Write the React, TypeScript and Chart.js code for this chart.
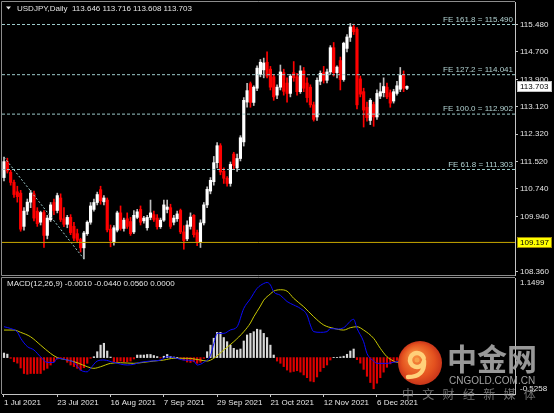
import React, { useEffect, useRef } from 'react';
import { Chart, registerables } from 'chart.js';

Chart.register(...registerables);

// ---------- Price data (daily USDJPY, 1 Jul 2021 - 17 Dec 2021) ----------
const opens = [
  111.07, 111.53, 111.22, 110.93, 110.66, 110.62, 109.66, 110.10, 110.36, 110.60,
  110.10, 109.78, 110.06, 109.40, 109.85, 110.35, 110.12, 110.48, 109.88, 109.72,
  109.92, 109.66, 109.45, 109.28, 109.04, 109.45, 109.78, 110.15, 110.35, 110.72,
  110.37, 110.42, 109.58, 109.20, 109.55, 110.05, 109.60, 109.88, 109.80, 109.50,
  109.92, 110.15, 109.82, 109.62, 109.92, 110.00, 109.90, 109.65, 109.84, 110.15,
  110.20, 109.78, 109.88, 110.12, 109.50, 109.30, 109.66, 109.98, 109.48, 109.20,
  109.76, 110.28, 110.68, 110.95, 111.50, 111.99, 111.25, 111.05, 110.90, 111.75,
  111.35, 111.62, 112.10, 113.25, 113.78, 113.24, 113.65, 114.05, 114.18, 114.40,
  114.20, 113.98, 113.45, 113.68, 114.10, 113.80, 113.50, 114.10, 113.98, 113.55,
  114.15, 113.80, 113.68, 113.17, 112.82, 113.85, 114.10, 113.88, 114.12, 114.82,
  114.10, 114.45, 113.90, 114.80, 115.12, 115.42, 115.35, 113.92, 113.55, 113.10,
  112.72, 113.18, 112.82, 113.42, 113.52, 113.68, 113.52, 113.28, 113.50, 113.62,
  114.05, 113.646,
];
const highs = [
  111.66, 111.63, 111.28, 111.00, 110.82, 110.70, 110.20, 110.45, 110.70, 110.68,
  110.20, 110.10, 110.12, 109.98, 110.35, 110.45, 110.62, 110.60, 110.20, 109.98,
  110.00, 109.78, 109.58, 109.32, 109.52, 109.82, 110.35, 110.45, 110.65, 110.82,
  110.55, 110.48, 109.70, 109.68, 110.10, 110.25, 109.90, 110.05, 109.92, 110.12,
  110.15, 110.25, 109.95, 109.98, 110.42, 110.10, 110.00, 109.90, 110.42, 110.42,
  110.30, 109.98, 110.10, 110.16, 109.68, 109.82, 110.05, 110.00, 109.55, 109.85,
  110.35, 110.80, 111.07, 111.68, 112.08, 112.05, 111.35, 111.10, 111.52, 111.80,
  111.75, 112.28, 113.38, 113.79, 113.83, 113.72, 114.30, 114.48, 114.52, 114.70,
  114.28, 114.05, 113.75, 114.32, 114.20, 113.95, 114.05, 114.42, 114.08, 114.30,
  114.25, 113.95, 113.75, 113.25, 113.95, 114.15, 114.28, 114.20, 114.88, 114.97,
  114.30, 114.55, 114.98, 115.20, 115.52, 115.50, 115.40, 114.00, 113.65, 113.25,
  113.35, 113.25, 113.60, 113.80, 113.95, 113.80, 113.60, 113.62, 113.85, 114.25,
  114.15, 113.716,
];
const lows = [
  110.97, 111.20, 110.85, 110.50, 110.36, 109.52, 109.55, 110.00, 110.20, 109.82,
  109.66, 109.70, 109.05, 109.30, 109.80, 110.00, 110.05, 109.80, 109.65, 109.62,
  109.42, 109.25, 109.20, 108.92, 108.72, 109.40, 109.72, 110.10, 110.28, 110.30,
  110.28, 109.50, 109.07, 109.12, 109.50, 109.55, 109.52, 109.60, 109.40, 109.45,
  109.88, 109.70, 109.75, 109.55, 109.85, 109.80, 109.58, 109.60, 109.80, 110.05,
  109.60, 109.70, 109.80, 109.45, 109.00, 109.25, 109.58, 109.35, 109.10, 109.05,
  109.70, 110.20, 110.60, 110.85, 111.35, 111.15, 110.90, 110.82, 110.82, 111.30,
  111.25, 111.55, 111.98, 113.10, 113.10, 113.15, 113.58, 113.98, 113.95, 113.95,
  113.60, 113.30, 113.35, 113.60, 113.45, 113.25, 113.40, 113.85, 113.45, 113.50,
  113.55, 113.25, 113.10, 112.70, 112.72, 113.75, 113.80, 113.80, 114.05, 114.00,
  113.95, 113.60, 113.85, 114.70, 115.00, 115.20, 113.05, 113.40, 112.53, 112.70,
  112.60, 112.55, 112.75, 113.35, 113.40, 113.35, 113.10, 113.22, 113.45, 113.55,
  113.55, 113.608,
];
const closes = [
  111.53, 111.26, 110.93, 110.58, 110.52, 109.58, 110.10, 110.36, 110.62, 109.90,
  109.74, 110.06, 109.40, 109.90, 110.28, 110.12, 110.55, 109.86, 109.72, 109.92,
  109.48, 109.32, 109.26, 109.04, 109.47, 109.78, 110.25, 110.35, 110.58, 110.40,
  110.48, 109.56, 109.25, 109.62, 110.05, 109.60, 109.84, 109.66, 109.45, 109.98,
  110.08, 109.78, 109.90, 109.92, 110.05, 109.86, 109.65, 109.84, 110.28, 110.22,
  109.66, 109.90, 110.02, 109.50, 109.25, 109.70, 109.93, 109.42, 109.22, 109.76,
  110.28, 110.73, 110.99, 111.50, 111.99, 111.23, 111.05, 110.90, 111.45, 111.42,
  111.62, 112.22, 113.30, 113.58, 113.24, 113.68, 114.23, 114.40, 114.38, 114.00,
  113.68, 113.40, 113.68, 114.12, 113.56, 113.50, 114.00, 113.95, 113.55, 114.15,
  113.65, 113.38, 113.17, 112.75, 113.88, 114.08, 113.88, 114.12, 114.82, 114.10,
  114.26, 113.90, 114.95, 115.13, 115.42, 115.28, 113.17, 113.48, 113.02, 112.80,
  113.30, 112.82, 113.50, 113.55, 113.70, 113.40, 113.22, 113.55, 113.72, 114.02,
  113.65, 113.703,
];

// ---------- Axis labels / levels ----------
const xTickIndex = [0, 16, 32, 48, 64, 80, 96, 112];
const xTickLabels = ['1 Jul 2021', '23 Jul 2021', '16 Aug 2021', '7 Sep 2021', '29 Sep 2021', '21 Oct 2021', '12 Nov 2021', '6 Dec 2021'];
const priceTicks = [115.48, 114.7, 113.9, 113.12, 112.32, 111.52, 110.74, 109.94, 108.36];
const feLevels = [115.49, 114.041, 112.902, 111.303];
const feLabels = ['FE 161.8 = 115.490', 'FE 127.2 = 114.041', 'FE 100.0 = 112.902', 'FE 61.8 = 111.303'];
const supportLevel = 109.197;
const supportLabel = '109.197';
const lastPrice = 113.703;
const lastPriceLabel = '113.703';
const trendStartBar = 0;
const trendEndBar = 24;
const headerText = 'USDJPY,Daily  113.646 113.716 113.608 113.703';

// ---------- MACD(12,26,9) ----------
const macdTitle = 'MACD(12,26,9) -0.0010 -0.0440 0.0560 0.0000';
const macdAxisLabels = ['1.1499', '-0.5258'];
const macdHist = [
  0.066, 0.05, -0.01, -0.06, -0.08, -0.15, -0.23, -0.24, -0.23, -0.23,
  -0.23, -0.23, -0.18, -0.155, -0.107, -0.06, -0.02, -0.005, -0.012, -0.068,
  -0.107, -0.13, -0.155, -0.18, -0.146, -0.082, -0.01, 0.013, 0.085, 0.18,
  0.207, 0.095, 0.008, -0.06, -0.06, -0.05, -0.06, -0.06, -0.05, -0.02,
  0.037, 0.037, 0.037, 0.045, 0.045, 0.03, 0.015, -0.005, 0.02, 0.045,
  0.015, 0.008, 0.004, -0.006, -0.035, -0.064, -0.07, -0.06, -0.082, -0.068,
  -0.012, 0.085, 0.18, 0.28, 0.365, 0.365, 0.29, 0.23, 0.18, 0.134,
  0.11, 0.124, 0.24, 0.327, 0.35, 0.374, 0.41, 0.40, 0.35, 0.29,
  0.18, 0.037, -0.05, -0.082, -0.13, -0.18, -0.21, -0.20, -0.19, -0.21,
  -0.25, -0.29, -0.34, -0.35, -0.28, -0.20, -0.146, -0.107, -0.035, 0.003,
  0.003, 0.01, 0.02, 0.048, 0.095, 0.124, -0.03, -0.08, -0.17, -0.27,
  -0.36, -0.45, -0.37, -0.29, -0.21, -0.14, -0.09, -0.06, -0.04, -0.02,
  -0.015, -0.001,
];
const macdMainBars = [0, 2, 4, 5, 7, 9, 11, 13, 15, 16, 19, 21, 23, 25, 26, 28, 30, 33, 37, 39, 41, 44, 47, 49, 51, 54, 57, 58, 60, 62, 63, 64, 66, 68, 70, 72, 74, 76, 78, 79, 80, 81, 83, 85, 87, 89, 91, 92, 93, 95, 97, 98, 100, 102, 105, 106, 108, 109, 111, 112, 115, 117, 118, 119, 121];
const macdMainValues = [0.446, 0.42, 0.37, 0.28, 0.16, 0.11, 0.01, -0.07, -0.07, -0.01, -0.035, -0.07, -0.18, -0.205, -0.155, -0.05, -0.035, -0.07, -0.107, -0.097, -0.068, -0.05, -0.035, 0.013, 0.0, -0.035, -0.05, -0.107, -0.068, 0.03, 0.2, 0.35, 0.35, 0.4, 0.446, 0.71, 0.85, 1.0, 1.07, 1.085, 1.05, 0.95, 0.9, 0.81, 0.76, 0.71, 0.615, 0.47, 0.375, 0.365, 0.375, 0.42, 0.413, 0.432, 0.553, 0.423, 0.229, 0.061, -0.05, -0.083, -0.083, -0.068, -0.06, -0.055, -0.044];
const macdSignalBars = [0, 3, 5, 8, 11, 14, 16, 19, 22, 25, 27, 29, 32, 35, 39, 42, 45, 48, 51, 55, 59, 61, 63, 66, 69, 72, 74, 75, 77, 78, 80, 81, 83, 85, 87, 90, 93, 96, 99, 102, 104, 106, 108, 111, 113, 115, 117, 118, 121];
const macdSignalValues = [0.398, 0.398, 0.365, 0.30, 0.18, 0.06, 0.0, -0.035, -0.074, -0.132, -0.155, -0.132, -0.083, -0.074, -0.083, -0.068, -0.05, -0.035, -0.01, -0.01, -0.035, -0.05, -0.01, 0.11, 0.23, 0.374, 0.5, 0.59, 0.745, 0.83, 0.92, 0.96, 0.98, 0.96, 0.856, 0.735, 0.591, 0.471, 0.423, 0.398, 0.432, 0.446, 0.398, 0.278, 0.134, 0.013, -0.05, -0.068, -0.07];

// ---------- Watermark text ----------
const wmTitle = '中金网';
const wmDomain = 'CNGOLD.COM.CN';
const wmSlogan = '中文财经新媒体';

// ---------- Scale ranges ----------
const X_MIN = -0.6;
const X_MAX = 153.45;
const Y_MIN = 108.256;
const Y_MAX = 116.14;
const MACD_MAX = 1.1499;
const MACD_MIN = -0.5258;

const FONT = "'Liberation Sans', Arial, sans-serif";
const TXT = '#e4e4e4';
const AXIS = '#c4c4c4';
const FRAME = '#8c8c8c';
const DASH = '#9ccaca';
const FE_TXT = '#b2d2d2';

export default function App() {
  const mainRef = useRef<HTMLCanvasElement>(null);
  const macdRef = useRef<HTMLCanvasElement>(null);

  useEffect(() => {
    document.body.style.margin = '0';
    document.body.style.background = '#000';

    const bull = closes.map((c, i) => c >= opens[i]);
    const wicks = highs.map((h, i) => ({ x: i, y: [lows[i], h] }));
    const bodies = opens.map((o, i) => ({ x: i, y: [o, closes[i]] }));

    const feDatasets = feLevels.map((lv) => ({
      type: 'line',
      data: [{ x: X_MIN, y: lv }, { x: X_MAX, y: lv }],
      borderColor: DASH,
      borderWidth: 1,
      borderDash: [3, 2],
      pointRadius: 0,
      order: 0,
    }));

    const mainOverlay = {
      id: 'mainOverlay',
      afterDraw(chart: any) {
        const { ctx, chartArea: a } = chart;
        const y = chart.scales.y;
        ctx.save();
        ctx.strokeStyle = FRAME;
        ctx.lineWidth = 1;
        ctx.beginPath();
        ctx.moveTo(a.left - 0.5, a.bottom + 0.5);
        ctx.lineTo(a.left - 0.5, a.top - 0.5);
        ctx.lineTo(a.right, a.top - 0.5);
        ctx.moveTo(a.left - 0.5, a.bottom + 0.5);
        ctx.lineTo(a.right, a.bottom + 0.5);
        ctx.stroke();
        ctx.fillStyle = TXT;
        ctx.beginPath();
        ctx.moveTo(6, 6.5);
        ctx.lineTo(11, 6.5);
        ctx.lineTo(8.5, 9.5);
        ctx.closePath();
        ctx.fill();
        ctx.font = `8px ${FONT}`;
        ctx.textBaseline = 'middle';
        ctx.textAlign = 'left';
        ctx.fillText(headerText, 17, 8.5);
        ctx.fillStyle = FE_TXT;
        ctx.textAlign = 'right';
        ctx.textBaseline = 'bottom';
        feLevels.forEach((lv, k) => {
          ctx.fillText(feLabels[k], a.right - 2, y.getPixelForValue(lv) - 1);
        });
        const box = (val: number, label: string, bg: string, border: string) => {
          const py = Math.round(y.getPixelForValue(val));
          ctx.fillStyle = bg;
          ctx.fillRect(a.right + 2, py - 5, 35, 11);
          ctx.strokeStyle = border;
          ctx.strokeRect(a.right + 2.5, py - 4.5, 34, 10);
          ctx.fillStyle = '#000';
          ctx.textAlign = 'left';
          ctx.textBaseline = 'middle';
          ctx.fillText(label, a.right + 5, py + 0.5);
        };
        box(lastPrice, lastPriceLabel, '#ffffff', '#c0c0c0');
        box(supportLevel, supportLabel, '#ffff00', '#a08800');
        ctx.restore();
      },
    };

    const main = new Chart(mainRef.current as HTMLCanvasElement, {
      type: 'bar',
      data: {
        datasets: [
          {
            type: 'bar',
            data: wicks,
            backgroundColor: bull.map((b) => (b ? '#bdbdbd' : '#ff0000')),
            barThickness: 1,
            grouped: false,
            order: 2,
          },
          {
            type: 'bar',
            data: bodies,
            backgroundColor: bull.map((b) => (b ? '#ffffff' : '#ff0000')),
            barThickness: 2.5,
            grouped: false,
            minBarLength: 1,
            order: 1,
          },
          ...feDatasets,
          {
            type: 'line',
            data: [{ x: X_MIN, y: supportLevel }, { x: X_MAX, y: supportLevel }],
            borderColor: '#c8a800',
            borderWidth: 1,
            pointRadius: 0,
            order: 0,
          },
          {
            type: 'line',
            data: [
              { x: trendStartBar, y: highs[trendStartBar] },
              { x: trendEndBar, y: lows[trendEndBar] },
            ],
            borderColor: DASH,
            borderWidth: 1,
            borderDash: [2, 2],
            pointRadius: 0,
            order: 0,
          },
        ] as any,
      },
      options: {
        responsive: false,
        animation: false,
        events: [],
        layout: { padding: { left: 2, top: 2, right: 0, bottom: 1 } },
        plugins: { legend: { display: false }, tooltip: { enabled: false } },
        scales: {
          x: { type: 'linear', min: X_MIN, max: X_MAX, offset: false, display: false },
          y: {
            type: 'linear',
            position: 'right',
            min: Y_MIN,
            max: Y_MAX,
            afterBuildTicks: (s: any) => {
              s.ticks = priceTicks.map((v) => ({ value: v }));
            },
            afterFit: (s: any) => {
              s.width = 39;
              s.paddingTop = 0;
              s.paddingBottom = 0;
            },
            ticks: {
              color: TXT,
              font: { family: FONT, size: 8 },
              padding: 2,
              autoSkip: false,
              callback: (v: any) => Number(v).toFixed(3),
            },
            grid: { drawOnChartArea: false, tickLength: 3, color: AXIS },
            border: { display: true, color: AXIS },
          },
        },
      } as any,
      plugins: [mainOverlay],
    });

    const macdOverlay = {
      id: 'macdOverlay',
      afterDraw(chart: any) {
        const { ctx, chartArea: a } = chart;
        ctx.save();
        ctx.strokeStyle = FRAME;
        ctx.lineWidth = 1;
        ctx.beginPath();
        ctx.moveTo(a.left - 0.5, a.bottom);
        ctx.lineTo(a.left - 0.5, a.top - 0.5);
        ctx.lineTo(a.right, a.top - 0.5);
        ctx.stroke();
        ctx.fillStyle = TXT;
        ctx.font = `8px ${FONT}`;
        ctx.textBaseline = 'middle';
        ctx.textAlign = 'left';
        ctx.fillText(macdTitle, 7, 8);

        const cx = 420;
        const cy = 87;
        const r = 22;
        const g = ctx.createRadialGradient(cx - 6, cy - 8, 3, cx, cy, r);
        g.addColorStop(0, '#f68a3c');
        g.addColorStop(0.7, '#e4521f');
        g.addColorStop(1, '#c9351a');
        ctx.fillStyle = g;
        ctx.beginPath();
        ctx.arc(cx, cy, r, 0, Math.PI * 2);
        ctx.fill();
        ctx.strokeStyle = '#ffd07a';
        ctx.lineCap = 'round';
        ctx.lineWidth = 4.5;
        ctx.beginPath();
        ctx.arc(cx - 3, cy - 3, 7, Math.PI * 0.1, Math.PI * 1.9);
        ctx.stroke();
        ctx.beginPath();
        ctx.moveTo(cx + 4, cy - 2);
        ctx.quadraticCurveTo(cx + 5, cy + 14, cx - 12, cy + 14);
        ctx.stroke();
        ctx.fillStyle = '#f7a24a';
        ctx.beginPath();
        ctx.arc(cx - 3, cy - 3, 2.5, 0, Math.PI * 2);
        ctx.fill();

        ctx.fillStyle = 'rgba(165,165,165,0.92)';
        ctx.font = "bold 30px 'Noto Sans CJK SC', sans-serif";
        ctx.textAlign = 'left';
        ctx.textBaseline = 'middle';
        ctx.fillText(wmTitle, 447, 83);
        ctx.fillStyle = 'rgba(170,170,170,0.95)';
        ctx.font = `10px ${FONT}`;
        ctx.fillText(wmDomain, 449, 105.5);
        ctx.fillStyle = 'rgba(150,150,150,0.75)';
        ctx.font = "12px 'Noto Sans CJK SC', sans-serif";
        Array.from(wmSlogan).forEach((ch, k) => {
          ctx.fillText(ch, 402 + k * 20.3, 118);
        });
        ctx.restore();
      },
    };

    const macd = new Chart(macdRef.current as HTMLCanvasElement, {
      type: 'bar',
      data: {
        datasets: [
          {
            type: 'line',
            data: macdMainBars.map((x, k) => ({ x, y: macdMainValues[k] })),
            borderColor: '#0a0aff',
            borderWidth: 1,
            pointRadius: 0,
            cubicInterpolationMode: 'monotone',
            order: 1,
          },
          {
            type: 'line',
            data: macdSignalBars.map((x, k) => ({ x, y: macdSignalValues[k] })),
            borderColor: '#c8c800',
            borderWidth: 1,
            pointRadius: 0,
            cubicInterpolationMode: 'monotone',
            order: 2,
          },
          {
            type: 'bar',
            data: macdHist.map((v, i) => ({ x: i, y: v })),
            backgroundColor: macdHist.map((v) => (v >= 0 ? '#d8d8d8' : '#e00000')),
            barThickness: 1.5,
            grouped: false,
            order: 3,
          },
        ] as any,
      },
      options: {
        responsive: false,
        animation: false,
        events: [],
        layout: { padding: { left: 2, top: 2, right: 0, bottom: 0 } },
        plugins: { legend: { display: false }, tooltip: { enabled: false } },
        scales: {
          x: {
            type: 'linear',
            min: X_MIN,
            max: X_MAX,
            offset: false,
            afterBuildTicks: (s: any) => {
              s.ticks = xTickIndex.map((v) => ({ value: v }));
            },
            afterFit: (s: any) => {
              s.height = 19;
              s.paddingLeft = 0;
              s.paddingRight = 0;
            },
            ticks: {
              color: TXT,
              font: { family: FONT, size: 8 },
              autoSkip: false,
              maxRotation: 0,
              minRotation: 0,
              align: 'start',
              padding: 1,
              callback: (_v: any, i: number) => xTickLabels[i],
            },
            grid: { drawOnChartArea: false, offset: false, tickLength: 3, color: AXIS },
            border: { display: true, color: AXIS },
          },
          y: {
            type: 'linear',
            position: 'right',
            min: MACD_MIN,
            max: MACD_MAX,
            afterBuildTicks: (s: any) => {
              const r = MACD_MAX - MACD_MIN;
              s.ticks = [{ value: MACD_MAX - r * 0.045 }, { value: MACD_MIN + r * 0.045 }];
            },
            afterFit: (s: any) => {
              s.width = 39;
              s.paddingTop = 0;
              s.paddingBottom = 0;
            },
            ticks: {
              color: TXT,
              font: { family: FONT, size: 8 },
              padding: 2,
              autoSkip: false,
              callback: (_v: any, i: number) => macdAxisLabels[i],
            },
            grid: { display: false, tickLength: 3 },
            border: { display: true, color: AXIS },
          },
        },
      } as any,
      plugins: [macdOverlay],
    });

    return () => {
      main.destroy();
      macd.destroy();
    };
  }, []);

  return (
    <div style={{ width: 554, height: 413, background: '#000', overflow: 'hidden' }}>
      <canvas ref={mainRef} width={554} height={276} style={{ display: 'block' }} />
      <canvas ref={macdRef} width={554} height={137} style={{ display: 'block' }} />
    </div>
  );
}
